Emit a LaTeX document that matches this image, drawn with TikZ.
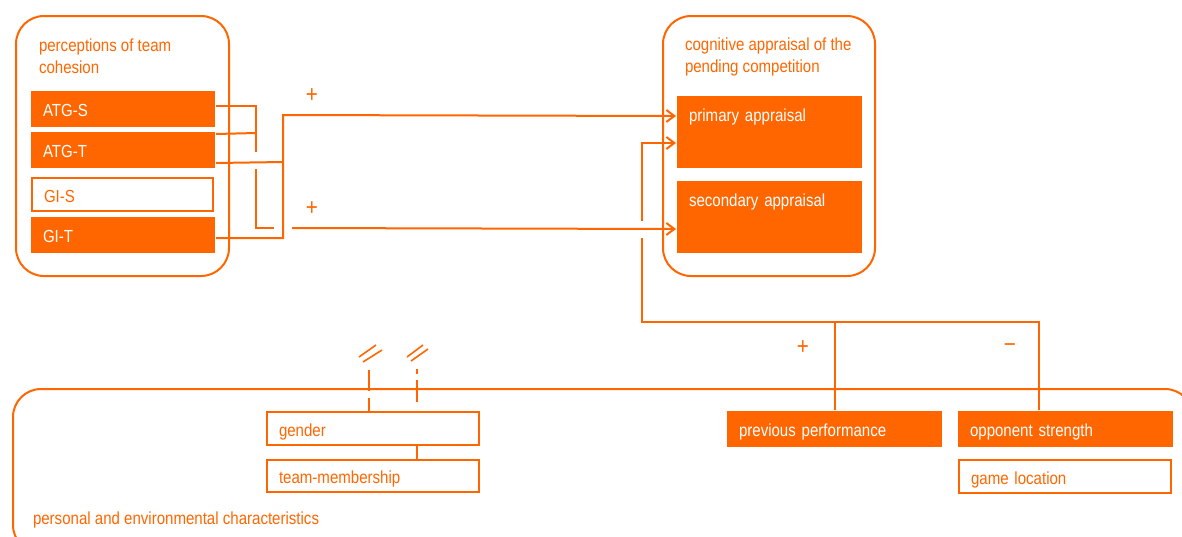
\documentclass[tikz,border=0pt]{standalone}
\usepackage{fontspec}
\setmainfont{Liberation Sans}[FakeStretch=0.86]
\usetikzlibrary{arrows.meta,calc}
\definecolor{myor}{RGB}{255,102,0}
\begin{document}
\begin{tikzpicture}[x=1pt,y=-1pt,line width=2pt,color=myor,
  every node/.style={font=\fontsize{17.5}{21.5}\selectfont},
  fbox/.style={anchor=north west,fill=myor,text=white,inner xsep=12pt,inner ysep=0pt,
    align=left,text height=15pt,text depth=0pt,minimum height=36pt},
  obox/.style={fbox,fill=none,draw=myor,text=myor,minimum height=33pt},
  pbox/.style={fbox,text height=14pt,text depth=36pt,minimum height=72pt},
  frame/.style={draw=myor,rounded corners=28pt,anchor=north west,inner sep=0pt},
  ttl/.style={anchor=base west,align=left,text=myor,inner sep=0pt},
  sgn/.style={text=myor,inner sep=0pt,font=\fontsize{24}{24}\selectfont},
  arr/.style={-{Straight Barb[length=8pt,width=12pt]}},
  brk/.style={line width=1.6pt}]
\useasboundingbox (0,0) rectangle (1182,536);
% containers
\node[frame,minimum width=213pt,minimum height=260pt] (perc) at (15,15) {};
\node[frame,minimum width=212pt,minimum height=260pt] (cog) at (662,15) {};
\begin{scope}
\clip (0,0) rectangle (1182,536);
\node[frame,minimum width=1180pt,minimum height=164pt] (pers) at (12,388) {};
\end{scope}
% titles (base = baseline of last line)
\node[ttl] (perct) at (38,73) {perceptions of team\\cohesion};
\node[ttl] (cogt) at (684,72) {cognitive appraisal of the\\pending competition};
\node[ttl] (perst) at (32,524) {personal and environmental characteristics};
% boxes
\node[fbox,text width=160pt] (atgs) at (30,90) {ATG-S};
\node[fbox,text width=160pt] (atgt) at (30,131) {ATG-T};
\node[obox,text width=157pt] (gis) at (31,177) {GI-S};
\node[fbox,text width=160pt] (git) at (30,216) {GI-T};
\node[pbox,text width=161pt] (prim) at (676,95) {primary appraisal};
\node[pbox,text width=161pt] (sec) at (676,180) {secondary appraisal};
\node[obox,text width=188pt] (gender) at (266,411) {gender};
\node[obox,text width=188pt,minimum height=32pt] (team) at (266,459) {team-membership};
\node[fbox,text width=191pt] (prev) at (726,410) {previous performance};
\node[fbox,text width=191pt] (opp) at (957,410) {opponent strength};
\node[obox,text width=188pt] (game) at (958,459) {game location};
% signs
\node[sgn] (s1) at (312,96) {+};
\node[sgn] (s2) at (312,209) {+};
\node[sgn] (s3) at (803,348) {+};
\node[sgn] (s4) at (1010,348) {−};
% performance / opponent -> primary appraisal
\coordinate (jC) at (642,322);
\draw (prev.north) -- (prev.north |- jC);
\draw ($(opp.north)+(-27,0)$) |- (jC) -- (642,238);
\draw[arr] (642,221) |- ($(prim.west)+(0,11)$);
% ATG-S / ATG-T -> secondary appraisal
\draw ($(atgs.east)+(0,-3)$) -| (256,152);
\draw ($(atgt.east)+(0,-16)$) -- (256,133);
\draw (256,169) |- (274,228);
\draw[arr] (292,228) -- ($(sec.west)+(0,12)$);
% ATG-T / GI-T -> primary appraisal
\draw ($(atgt.east)+(0,13)$) -- (283,162);
\draw[arr] ($(git.east)+(0,3)$) -| (283,115) -- ($(prim.west)+(0,-16)$);
% gender / team-membership
\draw ($(gender.south west)+(151,0)$) -- ($(team.north west)+(151,0)$);
\draw (369,370) -- (369,391);
\draw (369,398) -- ($(gender.north west)+(103,0)$);
\draw (417,369) -- (417,374);
\draw (417,380) -- (417,402);
\draw[brk] (359,357) -- (376,345);
\draw[brk] (363,362) -- (382,350);
\draw[brk] (407,357) -- (423,345);
\draw[brk] (411,361) -- (428,349);
\end{tikzpicture}
\end{document}
